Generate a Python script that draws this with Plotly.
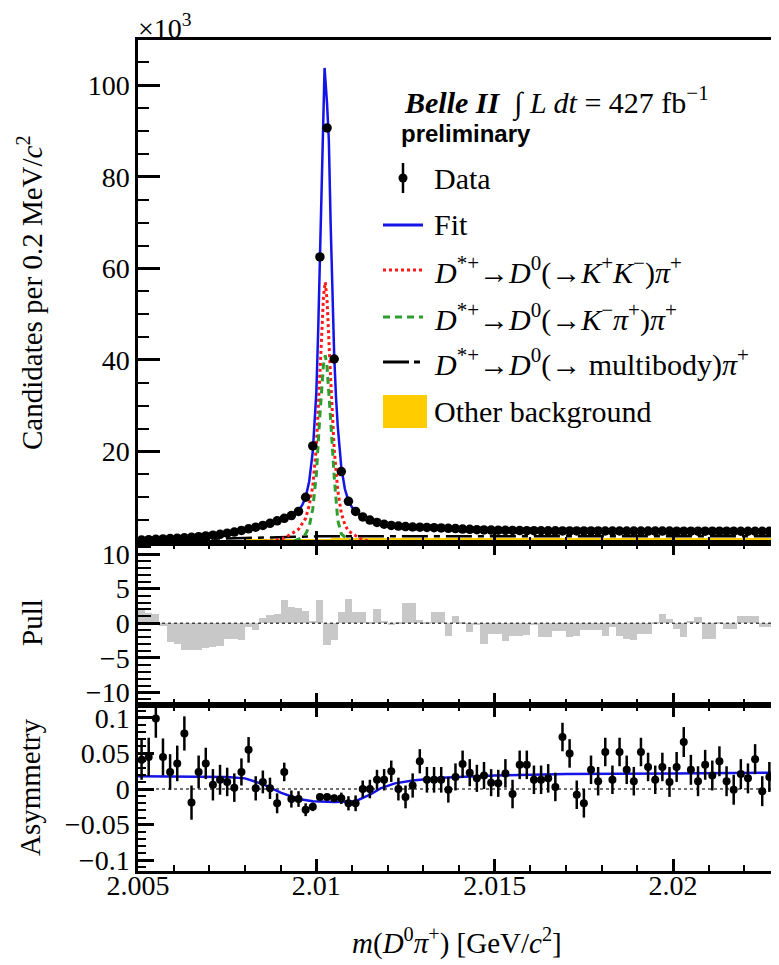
import plotly.graph_objects as go

# ---------------- data ----------------
bin_width = 0.0002
bin_centers = [round(2.0051 + bin_width * i, 4) for i in range(90)]

# candidates per bin, in units of 10^3
data_k = [
    0.65, 0.73, 0.81, 0.89, 0.97, 1.06, 1.15, 1.25, 1.38, 1.55,
    1.70, 1.90, 2.15, 2.40, 2.75, 3.10, 3.45, 3.85, 4.30, 4.85,
    5.40, 6.00, 6.90, 10.0, 21.2, 62.5, 90.7, 40.2, 15.6, 9.1,
    6.9, 5.7, 5.0, 4.5, 4.1, 3.85, 3.7, 3.6, 3.5, 3.45,
    3.4, 3.35, 3.3, 3.2, 3.15, 3.05, 3.0, 2.9, 2.85, 2.82,
    2.8, 2.78, 2.75, 2.72, 2.7, 2.7, 2.68, 2.67, 2.66, 2.65,
    2.65, 2.64, 2.64, 2.63, 2.63, 2.62, 2.62, 2.62, 2.61, 2.61,
    2.61, 2.60, 2.60, 2.60, 2.60, 2.59, 2.59, 2.59, 2.59, 2.58,
    2.58, 2.58, 2.58, 2.58, 2.57, 2.57, 2.57, 2.57, 2.57, 2.56,
]

other_bkg_k = [
    0.05, 0.10, 0.16, 0.22, 0.28, 0.34, 0.40, 0.45, 0.50, 0.55,
    0.60, 0.64, 0.68, 0.72, 0.75, 0.78, 0.81, 0.84, 0.86, 0.88,
    0.90, 0.92, 0.94, 0.95, 0.96, 0.97, 0.98, 0.99, 1.00, 1.01,
    1.02, 1.02, 1.03, 1.03, 1.04, 1.04, 1.04, 1.05, 1.05, 1.05,
    1.06, 1.06, 1.06, 1.06, 1.07, 1.07, 1.07, 1.07, 1.07, 1.08,
    1.08, 1.08, 1.08, 1.08, 1.08, 1.09, 1.09, 1.09, 1.09, 1.09,
    1.09, 1.09, 1.09, 1.10, 1.10, 1.10, 1.10, 1.10, 1.10, 1.10,
    1.10, 1.10, 1.10, 1.10, 1.10, 1.10, 1.10, 1.10, 1.10, 1.10,
    1.10, 1.10, 1.10, 1.10, 1.10, 1.10, 1.10, 1.10, 1.10, 1.10,
]

fit_x = [2.0050, 2.0055, 2.0060, 2.0065, 2.0070, 2.0075, 2.0080, 2.0085, 2.0088,
         2.0091, 2.0093, 2.0095, 2.0096, 2.0097, 2.0098, 2.0099, 2.0100, 2.01005,
         2.0101, 2.01015, 2.0102, 2.01023, 2.0103, 2.01035, 2.0104, 2.01045, 2.0105,
         2.01055, 2.0106, 2.0107, 2.0108, 2.0109, 2.0110, 2.0111, 2.0113, 2.0115,
         2.0118, 2.0121, 2.0125, 2.0130, 2.0137, 2.0145, 2.0155, 2.0170, 2.0190,
         2.0210, 2.0230]
fit_k = [0.55, 0.85, 1.1, 1.28, 1.6, 2.15, 2.9, 3.8, 4.6,
         5.5, 6.2, 7.2, 8.2, 10.0, 13.5, 20.0, 33.0, 46.0,
         62.0, 82.0, 99.0, 103.8, 96.0, 88.0, 70.0, 54.0, 41.0,
         32.0, 25.5, 16.5, 11.8, 9.2, 7.8, 6.9, 5.7, 4.9,
         4.2, 3.85, 3.55, 3.35, 3.15, 2.9, 2.75, 2.66, 2.62,
         2.59, 2.56]

kk_x = [2.0050, 2.0080, 2.0088, 2.0091, 2.0093, 2.0095, 2.0097, 2.0098, 2.0099,
        2.0100, 2.0101, 2.0102, 2.01025, 2.0103, 2.0104, 2.0105, 2.0106, 2.0107,
        2.0108, 2.0109, 2.0111, 2.0113, 2.0116, 2.0120, 2.0230]
kk_k = [0.05, 0.15, 0.5, 1.1, 2.0, 3.0, 5.4, 8.2, 12.5,
        21.0, 37.0, 54.0, 57.0, 53.0, 36.0, 20.5, 11.5, 6.5,
        4.0, 2.6, 1.6, 0.7, 0.25, 0.1, 0.03]

kpi_x = [2.0050, 2.0090, 2.0094, 2.0096, 2.0097, 2.0098, 2.0099, 2.0100, 2.0101,
         2.0102, 2.01025, 2.0103, 2.0104, 2.0105, 2.0106, 2.0107, 2.0109, 2.0112, 2.0230]
kpi_k = [0.03, 0.1, 0.5, 1.2, 2.0, 3.6, 7.5, 15.0, 28.0,
         39.0, 41.0, 38.5, 27.0, 14.5, 5.0, 2.0, 0.6, 0.15, 0.03]

multibody_x = [2.0050, 2.0060, 2.0070, 2.0080, 2.0090, 2.0100, 2.0110, 2.0130, 2.0160, 2.0200, 2.0230]
multibody_k = [0.25, 0.6, 0.9, 1.1, 1.3, 1.45, 1.5, 1.5, 1.5, 1.5, 1.5]

pull = [
    2.0, 1.5, 1.3, -0.4, -2.7, -3.0, -3.9, -3.9, -3.8, -3.5,
    -3.4, -3.3, -2.2, -2.3, -2.4, -0.5, -1.0, 0.8, 1.2, 1.4,
    3.3, 2.3, 2.2, 1.8, 0.3, 3.3, -3.1, -2.4, 1.7, 3.5,
    1.6, 1.6, 0.2, 2.1, 0.4, -0.3, 0.2, 3.0, 3.0, 0.5,
    0.2, 1.6, 1.6, -1.8, 1.1, 0.2, -1.3, -0.2, -3.0, -1.5,
    -1.6, -2.5, -1.8, -1.8, -1.7, -0.2, -2.0, -2.0, -1.1, -1.1,
    -2.0, -1.8, -1.0, -1.0, -1.0, -1.8, -0.5, -1.8, -2.3, -2.4,
    -1.5, -1.5, 0.1, 1.3, 0.6, -0.8, -2.0, 0.3, 0.9, -2.2,
    -2.2, 0.1, -0.8, -0.8, 1.1, 1.1, 1.1, -0.6, -0.6, 1.1,
]

asym = [
    0.041, 0.045, 0.099, 0.045, 0.024, 0.036, 0.078, -0.019, 0.024, 0.036,
    0.006, 0.013, 0.010, 0.002, 0.024, 0.055, 0.001, 0.010, 0.001, -0.020,
    0.024, -0.014, -0.014, -0.029, -0.025, -0.011, -0.011, -0.013, -0.013, -0.020,
    -0.020, 0.000, 0.000, 0.013, 0.013, 0.025, 0.000, -0.011, 0.005, 0.039,
    0.013, 0.013, 0.013, -0.001, 0.017, 0.035, 0.023, 0.015, 0.019, 0.009,
    0.008, 0.022, -0.007, 0.034, 0.034, 0.013, 0.013, 0.015, 0.003, 0.073,
    0.050, -0.008, -0.020, 0.027, 0.011, 0.052, 0.013, 0.052, 0.027, 0.011,
    0.052, 0.031, 0.013, 0.031, 0.010, 0.031, 0.066, 0.027, 0.011, 0.034,
    0.019, 0.039, 0.011, -0.001, 0.021, 0.015, 0.042, -0.003, 0.017, -0.011,
]

asym_err = [
    0.028, 0.027, 0.027, 0.026, 0.025, 0.025, 0.024, 0.024, 0.023, 0.022,
    0.022, 0.021, 0.020, 0.020, 0.019, 0.018, 0.017, 0.016, 0.015, 0.014,
    0.013, 0.012, 0.011, 0.009, 0.006, 0.004, 0.003, 0.005, 0.008, 0.010,
    0.011, 0.012, 0.013, 0.014, 0.015, 0.015, 0.016, 0.016, 0.017, 0.017,
    0.018, 0.018, 0.018, 0.018, 0.019, 0.019, 0.019, 0.019, 0.019, 0.019,
    0.019, 0.020, 0.020, 0.020, 0.020, 0.020, 0.020, 0.020, 0.020, 0.020,
    0.020, 0.020, 0.020, 0.020, 0.020, 0.020, 0.020, 0.020, 0.020, 0.020,
    0.020, 0.020, 0.020, 0.020, 0.021, 0.021, 0.021, 0.021, 0.021, 0.021,
    0.021, 0.021, 0.021, 0.021, 0.021, 0.021, 0.021, 0.021, 0.021, 0.021,
]

asym_fit_x = [2.0050, 2.0075, 2.0080, 2.0085, 2.0090, 2.0095, 2.0099, 2.0105, 2.0111,
              2.0115, 2.0118, 2.0122, 2.0127, 2.0135, 2.0150, 2.0170, 2.0200, 2.0230]
asym_fit = [0.018, 0.017, 0.015, 0.007, -0.005, -0.014, -0.017, -0.018, -0.017,
            -0.008, 0.001, 0.008, 0.012, 0.016, 0.019, 0.021, 0.022, 0.023]

x_tick_vals = [2.005, 2.01, 2.015, 2.02]
x_tick_text = ["2.005", "2.01", "2.015", "2.02"]
main_tick_vals = [20, 40, 60, 80, 100]
pull_tick_vals = [-10, -5, 0, 5, 10]
pull_tick_text = ["−10", "−5", "0", "5", "10"]
asym_tick_vals = [-0.1, -0.05, 0, 0.05, 0.1]
asym_tick_text = ["−0.1", "−0.05", "0", "0.05", "0.1"]

# ---------------- styling ----------------
# the page body adds an 8 px offset; the figure is sized/shifted to compensate
OFF = 8
W, H = 779 - OFF, 965 - OFF
L, R, T, B = 138 - OFF, 0, 40 - OFF, 94
PW, PH = W - L - R, H - T - B
SERIF = "Times New Roman, Liberation Serif, DejaVu Serif, serif"
SANS = "Arial, Liberation Sans, sans-serif"
FS = 28
FS_LEG = 30
BLUE = "#1414e6"
RED = "#ff1a1a"
GREEN = "#2e9e2e"
YELLOW = "#ffcc00"
GREY = "#c8c8c8"
MB_DASH = "26px,6px,6px,6px"
X_RANGE = [2.005, 2.02297]


def px(xs):
    # screen x (px) -> paper fraction
    return (xs - OFF - L) / PW


def py(ys):
    # screen y (px) -> paper fraction
    return (H - B - (ys - OFF)) / PH


fig = go.Figure()

# main panel
fig.add_trace(go.Bar(x=bin_centers, y=other_bkg_k, width=bin_width, marker=dict(color=YELLOW, line=dict(width=0)),
                     xaxis="x", yaxis="y", name="Other background", showlegend=False))
fig.add_trace(go.Scatter(x=multibody_x, y=multibody_k, mode="lines", line=dict(color="black", width=2.5, dash=MB_DASH),
                         xaxis="x", yaxis="y", showlegend=False))
fig.add_trace(go.Scatter(x=kk_x, y=kk_k, mode="lines", line=dict(color=RED, width=3, dash="dot"),
                         xaxis="x", yaxis="y", showlegend=False))
fig.add_trace(go.Scatter(x=kpi_x, y=kpi_k, mode="lines", line=dict(color=GREEN, width=3, dash="7px,5px"),
                         xaxis="x", yaxis="y", showlegend=False))
fig.add_trace(go.Scatter(x=fit_x, y=fit_k, mode="lines", line=dict(color=BLUE, width=2.5),
                         xaxis="x", yaxis="y", showlegend=False))
fig.add_trace(go.Scatter(x=bin_centers, y=data_k, mode="markers", marker=dict(color="black", size=9.5),
                         xaxis="x", yaxis="y", showlegend=False))

# pull panel
fig.add_trace(go.Bar(x=bin_centers, y=pull, width=bin_width, marker=dict(color=GREY, line=dict(width=0)),
                     xaxis="x2", yaxis="y2", showlegend=False))
fig.add_trace(go.Scatter(x=X_RANGE, y=[0, 0], mode="lines", line=dict(color="#444444", width=1.5, dash="dot"),
                         xaxis="x2", yaxis="y2", showlegend=False))

# asymmetry panel
fig.add_trace(go.Scatter(x=X_RANGE, y=[0, 0], mode="lines", line=dict(color="#444444", width=1.5, dash="dot"),
                         xaxis="x3", yaxis="y3", showlegend=False))
fig.add_trace(go.Scatter(x=asym_fit_x, y=asym_fit, mode="lines", line=dict(color=BLUE, width=2.5),
                         xaxis="x3", yaxis="y3", showlegend=False))
fig.add_trace(go.Scatter(x=bin_centers, y=asym, mode="markers", marker=dict(color="black", size=8),
                         error_y=dict(type="data", array=asym_err, color="black", thickness=2.5, width=0),
                         xaxis="x3", yaxis="y3", showlegend=False))

axis_common = dict(showline=True, linecolor="black", linewidth=2.5, ticks="inside", tickcolor="black",
                   tickwidth=2.5, showgrid=False, zeroline=False, automargin=False,
                   tickfont=dict(family=SERIF, size=FS, color="black"))

x_common = dict(axis_common, range=X_RANGE, tickmode="array", tickvals=x_tick_vals, ticktext=x_tick_text,
                ticklen=12,
                minor=dict(dtick=0.001, tick0=2.005, ticklen=6, tickwidth=2, ticks="inside", tickcolor="black",
                           showgrid=False))

fig.update_layout(
    width=W, height=H,
    margin=dict(l=L, r=R, t=T, b=B, pad=0, autoexpand=False),
    paper_bgcolor="white", plot_bgcolor="white",
    barmode="overlay", bargap=0,
    showlegend=False,
    xaxis=dict(x_common, anchor="y", showticklabels=False, mirror=True),
    xaxis2=dict(x_common, anchor="y2", matches="x", showticklabels=False, mirror="ticks"),
    xaxis3=dict(x_common, anchor="y3", matches="x", showticklabels=True, mirror="ticks", ticklabelstandoff=-12),
    yaxis=dict(axis_common, domain=[0.3947, 1.0], range=[0, 109.9], tickmode="array", tickvals=main_tick_vals,
               ticklen=22,
               minor=dict(dtick=5, tick0=0, ticklen=11, tickwidth=2, ticks="inside", tickcolor="black")),
    yaxis2=dict(axis_common, domain=[0.1998, 0.3947], range=[-11.8, 11.6], tickmode="array",
                tickvals=pull_tick_vals, ticktext=pull_tick_text, ticklen=22,
                minor=dict(dtick=1, tick0=0, ticklen=13, tickwidth=2, ticks="inside", tickcolor="black")),
    yaxis3=dict(axis_common, domain=[0.0, 0.1998], range=[-0.115, 0.118], tickmode="array",
                tickvals=asym_tick_vals, ticktext=asym_tick_text, ticklen=16,
                minor=dict(dtick=0.01, tick0=0, ticklen=8, tickwidth=2, ticks="inside", tickcolor="black")),
)

font = dict(family=SERIF, size=FS, color="black")
font_title = dict(family=SERIF, size=29, color="black")
font_leg = dict(family=SERIF, size=FS_LEG, color="black")
ann = []
# axis titles
ann.append(dict(text="<i>m</i>(<i>D</i><sup>0</sup><i>π</i><sup>+</sup>) [GeV/<i>c</i><sup>2</sup>]",
                x=px(457), y=py(941), xref="paper", yref="paper", xanchor="center", yanchor="middle",
                showarrow=False, font=font_title))
ann.append(dict(text="Candidates per 0.2 MeV/<i>c</i><sup>2</sup>", textangle=-90,
                x=px(30), y=py(293), xref="paper", yref="paper", xanchor="center", yanchor="middle",
                showarrow=False, font=font_title))
ann.append(dict(text="Pull", textangle=-90, x=px(32), y=py(623), xref="paper", yref="paper",
                xanchor="center", yanchor="middle", showarrow=False, font=font_title))
ann.append(dict(text="Asymmetry", textangle=-90, x=px(30), y=py(788), xref="paper", yref="paper",
                xanchor="center", yanchor="middle", showarrow=False, font=font_title))
ann.append(dict(text="×10<sup>3</sup>", x=px(136), y=py(27), xref="paper", yref="paper",
                xanchor="left", yanchor="middle", showarrow=False, font=font))

# legend block
ann.append(dict(text="<b><i>Belle II</i></b>  ∫ <i>L dt</i> = 427 fb<sup>−1</sup>", x=px(402), y=py(102),
                xref="paper", yref="paper", xanchor="left", yanchor="middle", showarrow=False, font=font_leg))
ann.append(dict(text="<b>preliminary</b>", x=px(399), y=py(133), xref="paper", yref="paper",
                xanchor="left", yanchor="middle", showarrow=False,
                font=dict(family=SANS, size=24, color="black")))
legend_rows = [
    ("Data", 178),
    ("Fit", 225),
    ("<i>D</i><sup>*+</sup>→<i>D</i><sup>0</sup>(→<i>K</i><sup>+</sup><i>K</i><sup>−</sup>)<i>π</i><sup>+</sup>", 270),
    ("<i>D</i><sup>*+</sup>→<i>D</i><sup>0</sup>(→<i>K</i><sup>−</sup><i>π</i><sup>+</sup>)<i>π</i><sup>+</sup>", 317),
    ("<i>D</i><sup>*+</sup>→<i>D</i><sup>0</sup>(→ multibody)<i>π</i><sup>+</sup>", 362),
    ("Other background", 411),
]
for txt, yy in legend_rows:
    ann.append(dict(text=txt, x=px(432), y=py(yy), xref="paper", yref="paper", xanchor="left",
                    yanchor="middle", showarrow=False, font=font_leg))

shapes = []
# legend symbols
shapes.append(dict(type="line", xref="paper", yref="paper", x0=px(403), x1=px(403), y0=py(163), y1=py(193),
                   line=dict(color="black", width=2.5)))
shapes.append(dict(type="circle", xref="paper", yref="paper", x0=px(398.5), x1=px(407.5), y0=py(182.5),
                   y1=py(173.5), fillcolor="black", line=dict(color="black", width=0)))
shapes.append(dict(type="line", xref="paper", yref="paper", x0=px(383), x1=px(423), y0=py(225), y1=py(225),
                   line=dict(color=BLUE, width=3)))
shapes.append(dict(type="line", xref="paper", yref="paper", x0=px(383), x1=px(423), y0=py(270), y1=py(270),
                   line=dict(color=RED, width=3, dash="dot")))
shapes.append(dict(type="line", xref="paper", yref="paper", x0=px(383), x1=px(423), y0=py(317), y1=py(317),
                   line=dict(color=GREEN, width=3, dash="7px,5px")))
shapes.append(dict(type="line", xref="paper", yref="paper", x0=px(383), x1=px(423), y0=py(362), y1=py(362),
                   line=dict(color="black", width=3, dash="26px,5px,6px,20px")))
shapes.append(dict(type="rect", xref="paper", yref="paper", x0=px(383), x1=px(427), y0=py(428), y1=py(395),
                   fillcolor=YELLOW, line=dict(width=0)))

fig.update_layout(annotations=ann, shapes=shapes)

fig.write_html("out.html")
